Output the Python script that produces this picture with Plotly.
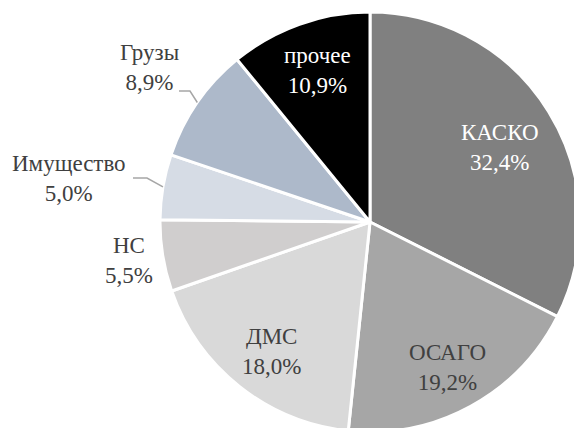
import math
import plotly.graph_objects as go

labels = ["КАСКО", "ОСАГО", "ДМС", "НС", "Имущество", "Грузы", "прочее"]
values = [32.4, 19.2, 18.0, 5.5, 5.0, 8.9, 10.9]
colors = ["#808080", "#a6a6a6", "#d9d9d9", "#d0cece", "#d6dce5", "#adb9ca", "#000000"]
text_colors = ["#ffffff", "#404040", "#404040", "#404040", "#404040", "#404040", "#ffffff"]

# label block centres (pixels) — layout only
label_px = [(500, 148), (447, 367), (271, 351), (129, 260), (69, 179), (149, 68), (317, 71)]
# leader lines: slice index -> (elbow end point, label-side start point)
leaders = {5: [(179, 91), (190, 91)], 4: [(133, 178), (147, 178)]}

FONT = "Liberation Serif"
W, H = 580, 432
L, T = 160, 12
PW, PH = W - L, H - T
CX, CY, R = L + PW / 2, T + PH / 2, min(PW, PH) / 2


def px2paper(x, y):
    return (x - L) / PW, 1 - (y - T) / PH


fig = go.Figure(go.Pie(
    labels=labels,
    values=values,
    sort=False,
    direction="clockwise",
    rotation=0,
    marker=dict(colors=colors, line=dict(color="#ffffff", width=3)),
    textinfo="none",
    showlegend=False,
    hoverinfo="skip",
))

total = sum(values)
annotations = []
shapes = []
cum = 0
for i, (lab, v) in enumerate(zip(labels, values)):
    mid = (cum + v / 2) / total * 2 * math.pi
    cum += v
    x, y = px2paper(*label_px[i])
    txt = f"{lab}<br>{v:.1f}%".replace(".", ",")
    annotations.append(dict(
        x=x, y=y, xref="paper", yref="paper", text=txt, showarrow=False,
        xanchor="center", yanchor="middle", align="center",
        font=dict(family=FONT, size=23, color=text_colors[i]),
    ))
    if i in leaders:
        ex = CX + R * math.sin(mid)
        ey = CY - R * math.cos(mid)
        pts = leaders[i] + [(ex, ey)]
        pp = [px2paper(a, b) for a, b in pts]
        path = "M {} {} L {} {} L {} {}".format(pp[0][0], pp[0][1], pp[1][0], pp[1][1], pp[2][0], pp[2][1])
        shapes.append(dict(type="path", xref="paper", yref="paper", path=path,
                           line=dict(color="#a6a6a6", width=1.5)))

fig.update_layout(
    width=W, height=H,
    margin=dict(l=L, r=0, t=T, b=0),
    paper_bgcolor="#ffffff",
    plot_bgcolor="#ffffff",
    annotations=annotations,
    shapes=shapes,
    font=dict(family=FONT),
)

fig.write_html(
    "out.html",
    config={"displayModeBar": False},
    post_script="document.body.style.margin='0';document.body.style.overflow='hidden';",
)
